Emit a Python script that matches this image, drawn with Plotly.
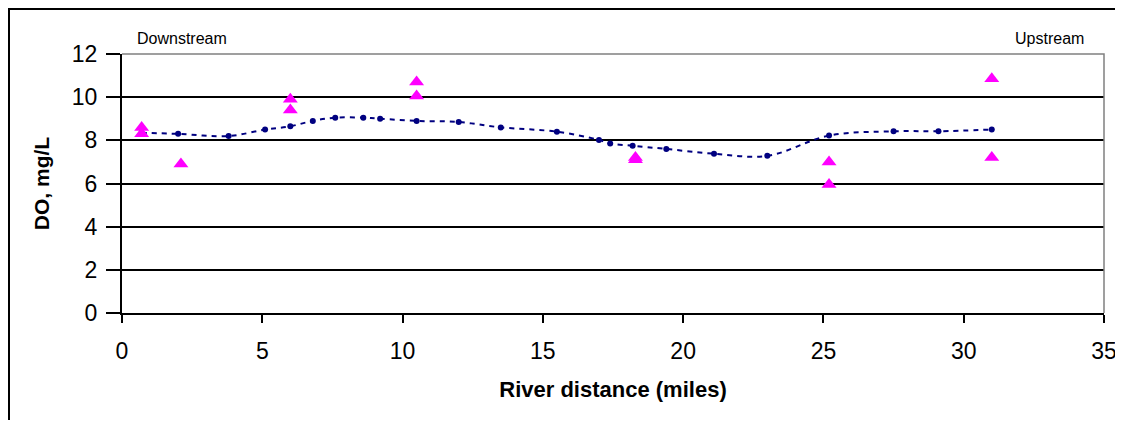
import plotly.graph_objects as go

# ---- data ----
model_x = [0.7, 2.0, 3.8, 5.1, 6.0, 6.8, 7.6, 8.6, 9.2, 10.5, 12.0, 13.5, 15.5,
           17.0, 17.4, 18.2, 19.4, 21.1, 23.0, 25.2, 27.5, 29.1, 31.0]
model_do = [8.35, 8.3, 8.2, 8.5, 8.65, 8.9, 9.05, 9.05, 9.0, 8.9, 8.85, 8.6, 8.4,
            8.02, 7.85, 7.75, 7.6, 7.38, 7.28, 8.22, 8.42, 8.42, 8.5]

obs_x = [0.7, 0.7, 2.1, 6.0, 6.0, 10.5, 10.5, 18.3, 18.3, 25.2, 25.2, 31.0, 31.0]
obs_do = [8.6, 8.3, 6.9, 9.9, 9.4, 10.7, 10.05, 7.2, 7.1, 7.0, 5.95, 10.85, 7.2]

x_ticks = [0, 5, 10, 15, 20, 25, 30, 35]
y_ticks = [0, 2, 4, 6, 8, 10, 12]

FONT = "Liberation Sans, Arial, sans-serif"

fig = go.Figure()

fig.add_trace(go.Scatter(
    x=model_x, y=model_do, mode="lines+markers",
    line=dict(color="#000080", width=2, dash="5px,5px", shape="spline", smoothing=1),
    marker=dict(color="#000080", size=6, symbol="circle"),
    showlegend=False,
))

fig.add_trace(go.Scatter(
    x=obs_x, y=obs_do, mode="markers",
    marker=dict(color="#FF00FF", size=13, symbol="triangle-up"),
    showlegend=False,
))

# page has an 8px body margin: work in figure coordinates, keep page free of scrollbars
O = 8
FW, FH = 1113, 412
L, R, T, B = 122 - O, FW - (1104 - O), 54 - O, FH - (313 - O)
pw = FW - L - R
ph = FH - T - B

def px_x(p):  # page pixel -> paper
    return (p - O - L) / pw

def px_y(p):
    return (FH - B - (p - O)) / ph

fig.update_layout(
    width=FW, height=FH,
    margin=dict(l=L, r=R, t=T, b=B, pad=0, autoexpand=False),
    paper_bgcolor="white", plot_bgcolor="white",
    font=dict(family=FONT, color="black"),
    xaxis=dict(
        range=[0, 35], tickvals=x_ticks, ticktext=[str(v) for v in x_ticks],
        showgrid=False, zeroline=False, automargin=False, ticklabeloverflow="allow",
        showline=True, linecolor="black", linewidth=2,
        ticks="outside", ticklen=8, tickwidth=2, tickcolor="black",
        tickfont=dict(size=23, family=FONT),
        ticklabelstandoff=8,
        title=dict(text="<b>River distance (miles)</b>", font=dict(size=22, family=FONT), standoff=19),
    ),
    yaxis=dict(
        range=[0, 12], tickvals=y_ticks, ticktext=[str(v) for v in y_ticks],
        showgrid=True, gridcolor="black", gridwidth=1.5, zeroline=False, automargin=False,
        showline=True, linecolor="black", linewidth=2,
        ticks="outside", ticklen=14, tickwidth=1.5, tickcolor="black",
        tickfont=dict(size=23, family=FONT),
        ticklabelstandoff=4,
        title=dict(text="<b>DO, mg/L</b>", font=dict(size=21, family=FONT), standoff=16),
    ),
    annotations=[
        dict(text="Downstream", xref="paper", yref="paper", x=px_x(135), y=px_y(38.5),
             xanchor="left", yanchor="middle", showarrow=False, font=dict(size=16, family=FONT)),
        dict(text="Upstream", xref="paper", yref="paper", x=px_x(1086), y=px_y(38.5),
             xanchor="right", yanchor="middle", showarrow=False, font=dict(size=16, family=FONT)),
    ],
    shapes=[
        # grey plot-area border (top and right)
        dict(type="path", xref="paper", yref="paper",
             path="M 0,1 L 1,1 L 1,0", line=dict(color="#808080", width=1.5), layer="above"),
        # outer chart border (left and top; right/bottom out of frame)
        dict(type="path", xref="paper", yref="paper",
             path=f"M {px_x(9)},{px_y(440)} L {px_x(9)},{px_y(9)} L {px_x(1140)},{px_y(9)}",
             line=dict(color="black", width=2), layer="above"),
    ],
)

fig.write_html("out.html")
